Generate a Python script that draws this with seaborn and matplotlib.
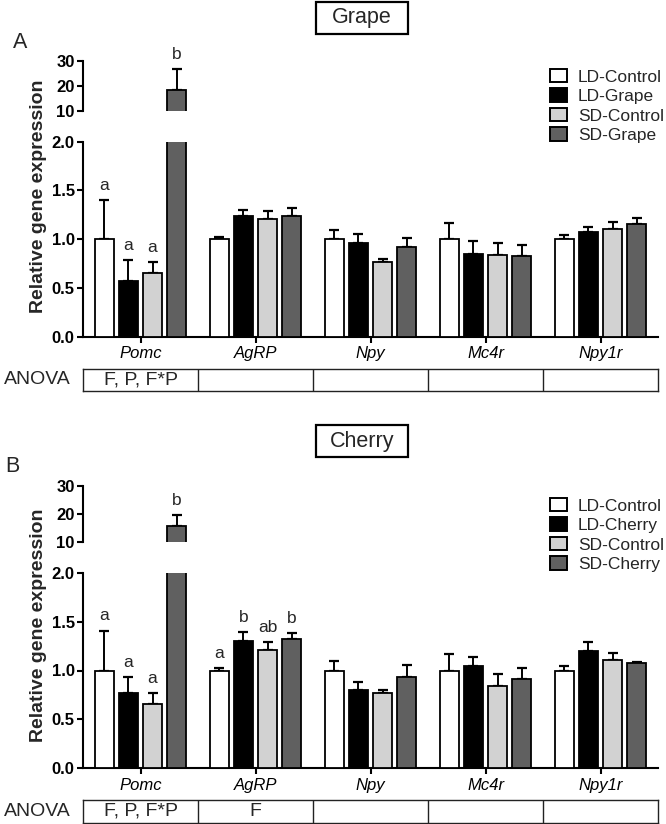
import numpy as np
import pandas as pd
import matplotlib
matplotlib.use("Agg")
import matplotlib.pyplot as plt
from matplotlib.patches import Patch, Rectangle
import seaborn as sns

# ---------------- data ----------------
genes = ["Pomc", "AgRP", "Npy", "Mc4r", "Npy1r"]

grape_groups = ["LD-Control", "LD-Grape", "SD-Control", "SD-Grape"]
grape_mean = {
    "LD-Control": [1.0, 1.0, 1.0, 1.0, 1.0],
    "LD-Grape":   [0.57, 1.238, 0.965, 0.848, 1.077],
    "SD-Control": [0.655, 1.204, 0.77, 0.838, 1.10],
    "SD-Grape":   [18.4, 1.238, 0.917, 0.824, 1.156],
}
grape_sem = {
    "LD-Control": [0.40, 0.026, 0.094, 0.17, 0.043],
    "LD-Grape":   [0.22, 0.062, 0.088, 0.13, 0.051],
    "SD-Control": [0.115, 0.086, 0.03, 0.126, 0.08],
    "SD-Grape":   [8.4, 0.079, 0.095, 0.113, 0.061],
}
grape_letters = {
    "Pomc": ["a", "a", "a", "b"],
}
grape_anova = ["F, P, F*P", "", "", "", ""]

cherry_groups = ["LD-Control", "LD-Cherry", "SD-Control", "SD-Cherry"]
cherry_mean = {
    "LD-Control": [1.0, 1.0, 1.0, 1.0, 1.0],
    "LD-Cherry":  [0.772, 1.306, 0.80, 1.046, 1.20],
    "SD-Control": [0.656, 1.21, 0.766, 0.841, 1.108],
    "SD-Cherry":  [15.7, 1.32, 0.93, 0.916, 1.074],
}
cherry_sem = {
    "LD-Control": [0.41, 0.026, 0.097, 0.17, 0.046],
    "LD-Cherry":  [0.164, 0.089, 0.085, 0.094, 0.096],
    "SD-Control": [0.116, 0.08, 0.034, 0.119, 0.075],
    "SD-Cherry":  [3.9, 0.068, 0.123, 0.114, 0.013],
}
cherry_letters = {
    "Pomc": ["a", "a", "a", "b"],
    "AgRP": ["a", "b", "ab", "b"],
}
cherry_anova = ["F, P, F*P", "F", "", "", ""]

colors = ["#ffffff", "#000000", "#d2d2d2", "#606060"]

# ---------------- style ----------------
sns.set_style("ticks")
plt.rcParams["font.family"] = ["Liberation Sans", "DejaVu Sans"]

W, H = 666, 824
fig = plt.figure(figsize=(W / 100, H / 100), dpi=100)


def frect(x0, y0, x1, y1):
    return [x0 / W, 1 - y1 / H, (x1 - x0) / W, (y1 - y0) / H]


def fx(x):
    return x / W


def fy(y):
    return 1 - y / H


def panel(groups, mean, sem, letters, anova, title, tag, tag_xy,
          up_px, low_px, an_px, title_y, leg_y, ylab_y, up_ylim):
    pal = dict(zip(groups, colors))
    rows = []
    for g in groups:
        for gene, m in zip(genes, mean[g]):
            rows.append({"gene": gene, "group": g, "value": m})
    df = pd.DataFrame(rows)

    ax_up = fig.add_axes(frect(83, up_px[0], 658, up_px[1]))
    ax_lo = fig.add_axes(frect(83, low_px[0], 658, low_px[1]))
    for ax in (ax_up, ax_lo):
        sns.barplot(data=df, x="gene", y="value", hue="group", order=genes,
                    hue_order=groups, palette=pal, edgecolor="black",
                    linewidth=1.3, width=0.84, gap=0.2, errorbar=None,
                    legend=False, ax=ax, zorder=3)
        ax.set_xlim(-0.5, 4.5)
        ax.set_xlabel("")
        ax.set_ylabel("")
        for gi, (g, cont) in enumerate(zip(groups, ax.containers)):
            xs = np.array([b.get_x() + b.get_width() / 2 for b in cont])
            hs = np.array([b.get_height() for b in cont])
            se = np.array(sem[g])
            ax.errorbar(xs, hs, yerr=[np.zeros_like(se), se], fmt="none",
                        ecolor="black", elinewidth=1.4, capsize=3.8,
                        capthick=1.6, zorder=2)
    # lower axis
    ax_lo.set_ylim(0, 2.0)
    ax_lo.set_yticks([0, 0.5, 1.0, 1.5, 2.0])
    ax_lo.set_yticklabels(["0.0", "0.5", "1.0", "1.5", "2.0"],
                          fontweight="bold", fontsize=12)
    ax_lo.set_xticks(range(len(genes)))
    ax_lo.set_xticklabels(genes, fontstyle="italic", fontsize=12)
    ax_lo.tick_params(axis="both", length=4, width=1.5, pad=2, colors="black")
    ax_lo.tick_params(axis="x", pad=3)
    for s in ["top", "right"]:
        ax_lo.spines[s].set_visible(False)
    for s in ["left", "bottom"]:
        ax_lo.spines[s].set_linewidth(1.5)
        ax_lo.spines[s].set_color("black")
    # upper axis
    ax_up.set_ylim(*up_ylim)
    ax_up.set_yticks([10, 20, 30])
    ax_up.set_yticklabels(["10", "20", "30"], fontweight="bold", fontsize=12)
    ax_up.set_xticks([])
    ax_up.tick_params(axis="y", length=4, width=1.5, pad=2, colors="black")
    for s in ["top", "right", "bottom"]:
        ax_up.spines[s].set_visible(False)
    ax_up.spines["left"].set_linewidth(1.5)
    ax_up.spines["left"].set_color("black")
    ax_up.spines["left"].set_bounds(10, 30)
    ax_up.patch.set_alpha(0)
    ax_lo.patch.set_alpha(0)

    # significance letters
    for gene, labs in letters.items():
        gi = genes.index(gene)
        for hi, (g, lab) in enumerate(zip(groups, labs)):
            cont = ax_lo.containers[hi]
            b = cont[gi]
            x = b.get_x() + b.get_width() / 2
            top = mean[g][gi] + sem[g][gi]
            ax = ax_up if top > 2.0 else ax_lo
            ax.annotate(lab, xy=(x, top), xytext=(0, 10.5),
                        textcoords="offset points", ha="center", va="center",
                        fontsize=12.5, annotation_clip=False)

    # ANOVA row
    ax_an = fig.add_axes(frect(83, an_px[0], 658, an_px[1]))
    ax_an.set_xlim(-0.5, 4.5)
    ax_an.set_ylim(0, 1)
    ax_an.set_xticks([])
    ax_an.set_yticks([])
    for s in ax_an.spines.values():
        s.set_visible(True)
        s.set_linewidth(1.0)
        s.set_color("#222222")
    for xv in [0.5, 1.5, 2.5, 3.5]:
        ax_an.axvline(xv, color="#222222", lw=1.0)
    for i, t in enumerate(anova):
        if t:
            ax_an.text(i, 0.5, t, ha="center", va="center", fontsize=14)
    fig.text(fx(37), fy((an_px[0] + an_px[1]) / 2), "ANOVA", ha="center",
             va="center", fontsize=14)

    # title box
    fig.add_artist(Rectangle((fx(316), fy(title_y + 16)), 92 / W, 32 / H,
                             transform=fig.transFigure, fill=False,
                             ec="black", lw=1.6))
    fig.text(fx(362), fy(title_y), title, ha="center", va="center",
             fontsize=15.5)
    fig.text(fx(tag_xy[0]), fy(tag_xy[1]), tag, ha="center", va="center",
             fontsize=15.5)

    # y label
    fig.text(fx(39), fy(ylab_y), "Relative gene expression", rotation=90,
             ha="center", va="center", fontsize=14, fontweight="bold")

    # legend
    handles = [Patch(facecolor=pal[g], edgecolor="black", linewidth=1.4,
                     label=g) for g in groups]
    fig.legend(handles=handles, loc="upper left",
               bbox_to_anchor=(fx(550), fy(leg_y)), frameon=False,
               fontsize=12.5, handlelength=1.0, handleheight=0.8,
               handletextpad=0.6, labelspacing=0.22, borderpad=0,
               borderaxespad=0)


panel(grape_groups, grape_mean, grape_sem, grape_letters, grape_anova,
      "Grape", "A", (20, 43), (61, 111), (141.7, 336.7), (369, 391),
      18, 69, 196, (10, 30))
panel(cherry_groups, cherry_mean, cherry_sem, cherry_letters, cherry_anova,
      "Cherry", "B", (12, 466), (486, 542), (573, 768), (800, 823),
      441, 498, 625, (10, 30))

fig.savefig("out.png", dpi=100)
